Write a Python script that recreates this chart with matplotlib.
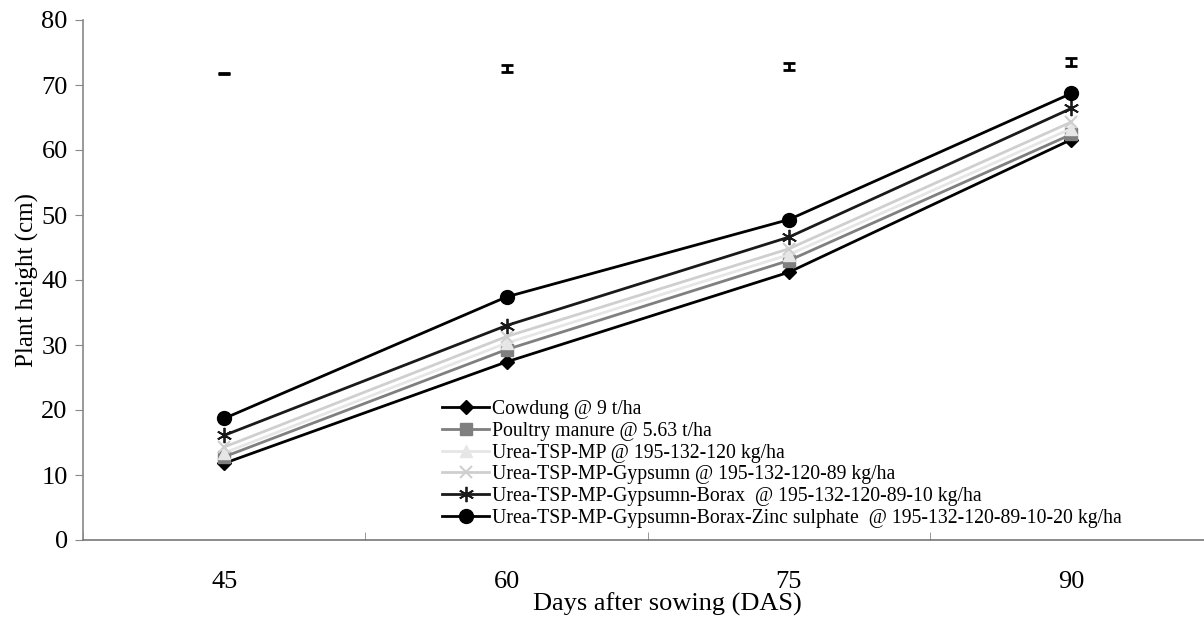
import matplotlib
matplotlib.use("Agg")
import matplotlib.pyplot as plt
import numpy as np

days = ["45", "60", "75", "90"]
cowdung = [11.8, 27.4, 41.2, 61.6]
poultry = [12.8, 29.3, 43.0, 62.4]
urea_tsp_mp = [13.4, 30.3, 43.9, 63.3]
gypsum = [14.3, 31.3, 44.8, 64.3]
borax = [16.1, 33.0, 46.6, 66.4]
zinc = [18.7, 37.4, 49.3, 68.7]
lsd_center = [71.8, 72.6, 72.9, 73.5]
lsd_half = [0.12, 0.55, 0.55, 0.65]

labels = [
    "Cowdung @ 9 t/ha",
    "Poultry manure @ 5.63 t/ha",
    "Urea-TSP-MP @ 195-132-120 kg/ha",
    "Urea-TSP-MP-Gypsumn @ 195-132-120-89 kg/ha",
    "Urea-TSP-MP-Gypsumn-Borax  @ 195-132-120-89-10 kg/ha",
    "Urea-TSP-MP-Gypsumn-Borax-Zinc sulphate  @ 195-132-120-89-10-20 kg/ha",
]

plt.rcParams['font.family'] = ['Liberation Serif', 'DejaVu Serif']

fig = plt.figure(figsize=(12.04, 6.18), dpi=100)
ax = fig.add_axes([83/1204, 1-540/618, 1-83/1204, (540-20)/618])

x = np.arange(len(days))
series = [
    (cowdung, dict(color="black", marker="D", ms=7)),
    (poultry, dict(color="#7f7f7f", marker="s", ms=8)),
    (urea_tsp_mp, dict(color="#e6e6e6", marker="^", ms=9)),
    (gypsum, dict(color="#cfcfcf", marker="x", ms=9, mew=1.5)),
    (borax, dict(color="#1a1a1a", marker=(6, 2, 0), ms=11, mew=1.3)),
    (zinc, dict(color="black", marker="o", ms=10)),
]
for (vals, st), lab in zip(series, labels):
    ax.plot(x, vals, lw=2.0, label=lab, **st)

ax.errorbar(x, lsd_center, yerr=lsd_half, fmt="none", ecolor="black",
            elinewidth=2, capsize=4, capthick=2)

ax.set_ylim(0, 80)
ax.set_xlim(-0.5, 3.47)
ax.set_yticks(np.arange(0, 81, 10))
ax.set_xticks(x)
ax.set_xticklabels(days)
ax.set_xticks([-0.5, 0.5, 1.5, 2.5], minor=True)
ax.tick_params(axis="x", which="major", length=0, pad=22, labelsize=19)
ax.tick_params(axis="x", which="minor", length=6, direction="in", color="#888888")
ax.tick_params(axis="y", length=6, direction="out", color="#888888", labelsize=19, pad=5)

for s in ["top", "right"]:
    ax.spines[s].set_visible(False)
ax.spines["left"].set_color("#888888")
ax.spines["bottom"].set_color("#777777")
ax.spines["left"].set_linewidth(1.2)
ax.spines["bottom"].set_linewidth(1.2)

ax.set_xlabel("Days after sowing (DAS)", fontsize=19, va="center")
ax.xaxis.set_label_coords((667-83)/1121, (540-604)/520)
ax.set_ylabel("Plant height (cm)", fontsize=18, labelpad=2)

leg = ax.legend(loc="upper left", bbox_to_anchor=((442-83)/(1204-83), (540-400)/520),
                frameon=False, fontsize=14.2, handlelength=2.4, handletextpad=0.15,
                labelspacing=0.14, borderaxespad=0, borderpad=0)

fig.savefig("out.png", dpi=100)
